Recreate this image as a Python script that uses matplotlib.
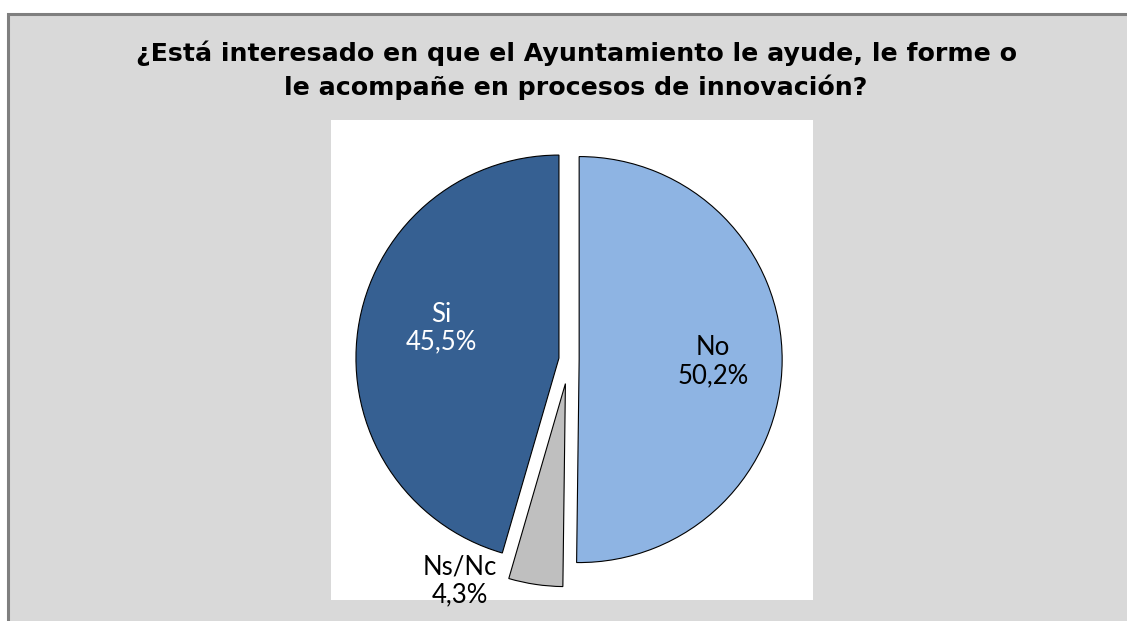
import matplotlib
matplotlib.use('Agg')
import matplotlib.pyplot as plt
from matplotlib.patches import Rectangle

# datos (sentido horario desde las 12)
categorias = ['No', 'Ns/Nc', 'Si']
valores = [50.2, 4.3, 45.5]
colores = ['#8eb4e3', '#bfbfbf', '#366092']
color_texto = ['black', 'black', 'white']
separacion = [0.05, 0.12, 0.05]
# posición de las etiquetas (coordenadas del eje, en radios)
pos_etiquetas = [(0.71, -0.012), (-0.537, -1.09), (-0.63, 0.155)]

titulo = ('¿Está interesado en que el Ayuntamiento le ayude, le forme o\n'
          'le acompañe en procesos de innovación?')

W, H = 1127, 621
fig = plt.figure(figsize=(W / 100, H / 100), dpi=100, facecolor='white')

# fondo gris con borde
fondo = Rectangle((8 / W, -0.02), 1.02, (H - 14) / H + 0.02, transform=fig.transFigure,
                  facecolor='#d9d9d9', edgecolor='#7f7f7f', linewidth=2.2, zorder=-10)
fig.patches.append(fondo)

# área blanca del gráfico
x0, x1, y0, y1 = 331, 813, 120, 600
ax = fig.add_axes([x0 / W, (H - y1) / H, (x1 - x0) / W, (y1 - y0) / H])
ax.set_zorder(5)

cuñas, _ = ax.pie(valores, colors=colores, explode=separacion, startangle=90,
                  counterclock=False, radius=1,
                  wedgeprops={'edgecolor': 'black', 'linewidth': 0.8})

for cat, val, (tx, ty), col in zip(categorias, valores, pos_etiquetas, color_texto):
    ax.text(tx, ty, f'{cat}\n{val:.1f}%'.replace('.', ','), ha='center', va='center',
            fontsize=18.5, family='Lato', color=col,
            linespacing=1.15, clip_on=False)

cx, cy, r = 569, 359.5, 203
ax.set_frame_on(True)
ax.set_facecolor('white')
ax.set_aspect('auto')
ax.set_xlim((x0 - cx) / r, (x1 - cx) / r)
ax.set_ylim((cy - y1) / r, (cy - y0) / r)
for s in ax.spines.values():
    s.set_visible(False)
ax.set_xticks([])
ax.set_yticks([])

fig.text(576 / W, 1 - 70 / H, titulo, ha='center', va='center', fontsize=18.2,
         fontweight='bold', family='DejaVu Sans', linespacing=1.4)

fig.savefig('out.png', dpi=100, facecolor=fig.get_facecolor())
